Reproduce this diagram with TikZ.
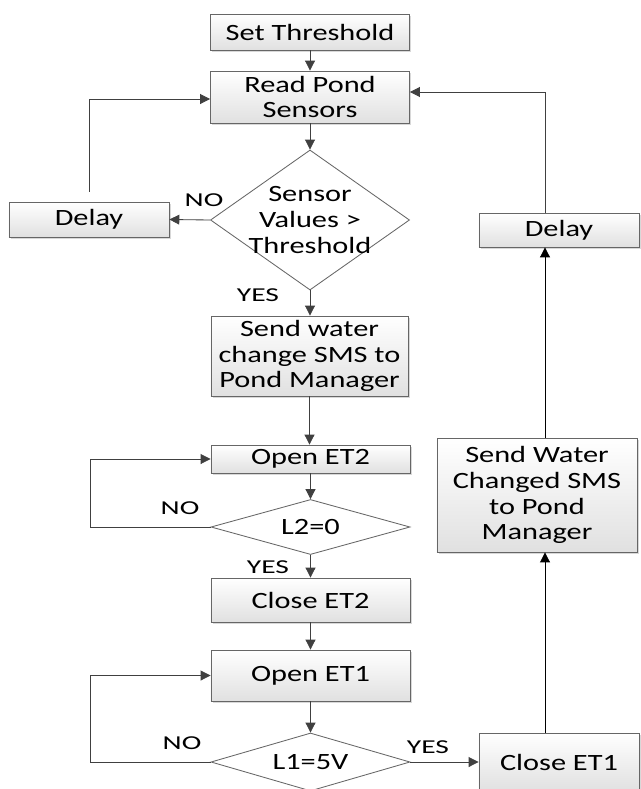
\documentclass[tikz,border=0pt]{standalone}
\usepackage{fontspec}
\setmainfont[FakeStretch=1.3]{Carlito}
\newfontfamily\lblfont[FakeStretch=1.5]{Carlito}
\usetikzlibrary{arrows.meta,shapes.geometric,shadows}

\begin{document}
\begin{tikzpicture}[x=0.025cm, y=-0.025cm,
    box/.style={draw=black!60, line width=0.6pt, top color=white, bottom color=black!12,
      drop shadow={shadow xshift=1.2pt, shadow yshift=-1.2pt, fill=black!30, opacity=0.5},
      align=center, inner sep=0pt, font=\fontsize{16.6}{18.4}\selectfont},
    dec/.style={diamond, draw=black!60, line width=0.6pt, fill=white, inner sep=0pt, minimum width=4.975cm},
    txt/.style={align=center, font=\fontsize{16.6}{18.4}\selectfont},
    lbl/.style={font=\lblfont\fontsize{14}{16}\selectfont},
    arr/.style={draw=black!75, line width=0.6pt, -{Triangle[length=7pt,width=7pt]}},
    barr/.style={draw=black, line width=0.6pt, -{Triangle[length=7pt,width=7pt]}}]
    \fill[white] (0,0) rectangle (640,789);
    \useasboundingbox (0,0) rectangle (640,789);
    \node[box, minimum width=4.975cm, minimum height=0.9cm] (ST) at (310,32) {Set Threshold};
    \node[box, minimum width=4.975cm, minimum height=1.3cm] (RP) at (310,97) {Read Pond\\Sensors};
    \node[dec, minimum height=3.5cm] (C1) at (310,220) {};
    \node[txt] (T1) at (C1) {Sensor\\Values >\\Threshold};
    \node[box, minimum width=4cm, minimum height=0.875cm] (DL) at (89,219.5) {Delay};
    \node[box, minimum width=4.925cm, minimum height=2cm] (SM) at (309.5,356) {Send water\\change SMS to\\Pond Manager};
    \node[box, minimum width=4.975cm, minimum height=0.7cm] (O2) at (310.5,459) {Open ET2};
    \node[dec, minimum height=1.375cm] (C2) at (310.5,527) {};
    \node[txt] (T2) at (C2) {L2=0};
    \node[box, minimum width=4.975cm, minimum height=1.1cm] (X2) at (310.5,600) {Close ET2};
    \node[box, minimum width=4.975cm, minimum height=1.275cm] (O1) at (310.5,675.5) {Open ET1};
    \node[dec, minimum height=1.45cm] (C3) at (310.5,762) {};
    \node[txt] (T3) at (C3) {L1=5V};
    \node[box, minimum width=4cm, minimum height=1.45cm] (X1) at (559,762) {Close ET1};
    \node[box, minimum width=5cm, minimum height=2.85cm] (SW) at (537,495) {Send Water\\Changed SMS\\to Pond\\Manager};
    \node[box, minimum width=4cm, minimum height=0.85cm] (DR) at (559,230) {Delay};
    \coordinate (LX) at (89,99);
    \coordinate (RX) at (545,92);
    \draw[arr] (ST) -- (RP);
    \draw[arr] (RP) -- (C1);
    \draw[arr] (C1.west) -- (DL.east);
    \draw[arr, shorten <=7pt] (DL.north) -- (LX) -- (RP.west |- LX);
    \draw[arr] (C1.south) -- (SM.north -| C1.south);
    \draw[arr] (SM.south) -- (SM.south |- O2.north);
    \draw[arr] (O2) -- (C2);
    \draw[arr] (C2.west) -- ++(-120,0) |- (O2.west);
    \draw[arr] (C2) -- (X2);
    \draw[arr] (X2) -- (O1);
    \draw[arr] (O1) -- (C3);
    \draw[arr] (C3.west) -- ++(-120,0) |- (O1.west);
    \draw[arr] (C3.east) -- (X1.west);
    \draw[barr] (X1.north -| RX) -- (SW.south -| RX);
    \draw[barr] (SW.north -| RX) -- (DR.south -| RX);
    \draw[arr] (DR.north -| RX) -- (RX) -- (RP.east |- RX);
    \node[lbl] (N1) at (204,200) {NO};
    \node[lbl] (Y1) at (258,295) {YES};
    \node[lbl] (N2) at (180,508) {NO};
    \node[lbl] (Y2) at (268,567) {YES};
    \node[lbl] (N3) at (182,743) {NO};
    \node[lbl] (Y3) at (428,747) {YES};
\end{tikzpicture}
\end{document}
